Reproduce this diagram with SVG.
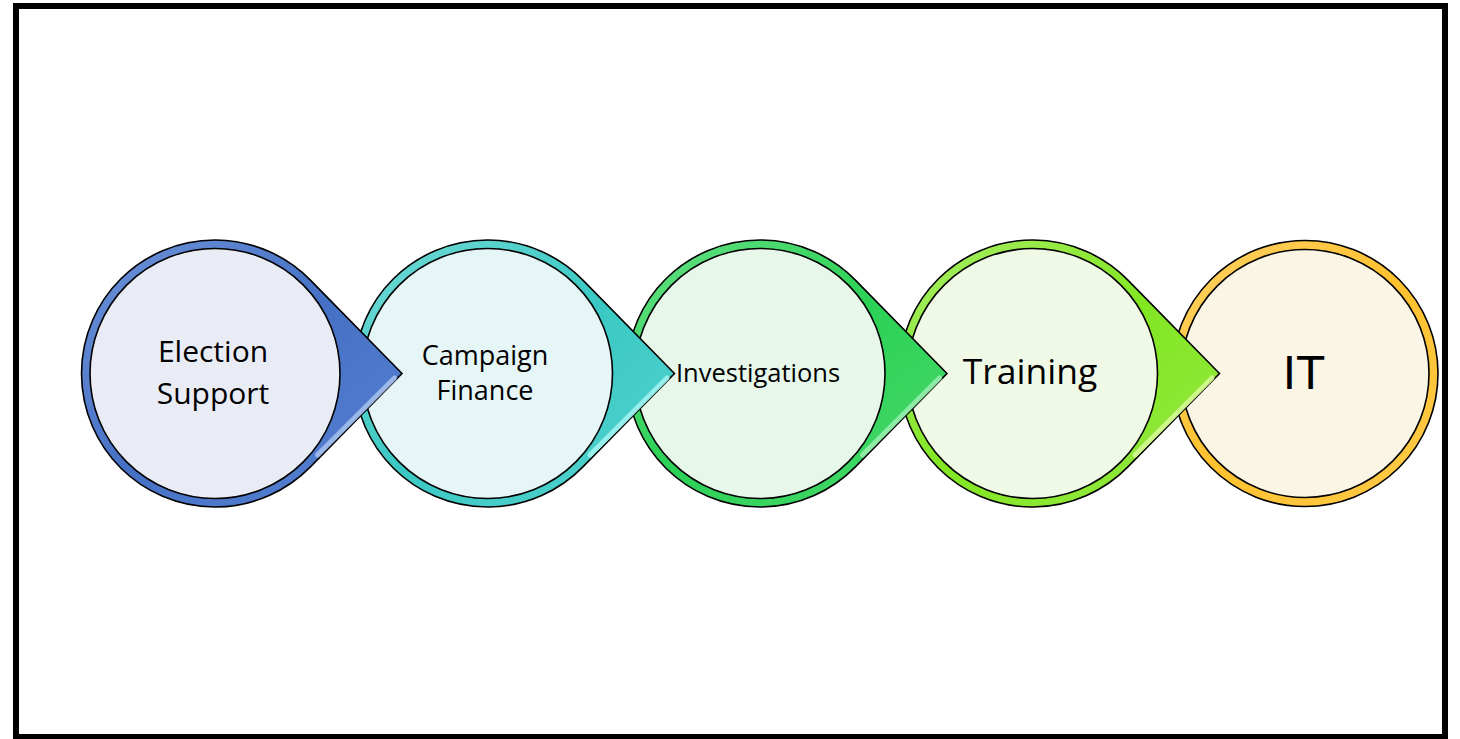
<svg xmlns="http://www.w3.org/2000/svg" width="1460" height="739" viewBox="0 0 1460 739">
<defs>
<style>
.outer{stroke:#000;stroke-width:1.6;stroke-linejoin:miter}
.inner{stroke:#000;stroke-width:1.6}
.hl{fill:none;stroke-width:5;stroke-linecap:round;opacity:0.85}
.lbl{font-family:"Open Sans","Noto Sans",sans-serif;fill:#000;text-anchor:middle}
</style>
<linearGradient id="gBlue" x1="0" y1="0" x2="1" y2="1"><stop offset="0" stop-color="#6E93D8"/><stop offset="0.5" stop-color="#4570C5"/><stop offset="1" stop-color="#5A84D2"/></linearGradient>
<linearGradient id="gTeal" x1="0" y1="0" x2="1" y2="1"><stop offset="0" stop-color="#72DAD6"/><stop offset="0.5" stop-color="#3AC8C3"/><stop offset="1" stop-color="#55D3CF"/></linearGradient>
<linearGradient id="gGreen" x1="0" y1="0" x2="1" y2="1"><stop offset="0" stop-color="#66E085"/><stop offset="0.5" stop-color="#2BD155"/><stop offset="1" stop-color="#4ADA6D"/></linearGradient>
<linearGradient id="gLime" x1="0" y1="0" x2="1" y2="1"><stop offset="0" stop-color="#A8EE66"/><stop offset="0.5" stop-color="#82E622"/><stop offset="1" stop-color="#96EA45"/></linearGradient>
<linearGradient id="gGold" x1="0" y1="0" x2="1" y2="1"><stop offset="0" stop-color="#FFD266"/><stop offset="0.5" stop-color="#FFC12E"/><stop offset="1" stop-color="#FFCB4A"/></linearGradient>
</defs>
<rect x="0" y="0" width="1460" height="739" fill="#fff"/>
<rect x="16" y="6" width="1429" height="731" fill="none" stroke="#000" stroke-width="6"/>

<g id="node-it">
<circle class="outer" cx="1305" cy="373.5" r="133" fill="url(#gGold)"/>
<circle class="inner" cx="1305" cy="373.5" r="124" fill="#FBF5E5"/>
<text class="lbl" x="1304" y="389" style="font-family:'Liberation Sans',Arial,sans-serif;font-size:48px">IT</text>
</g>

<g id="node-training">
<path class="outer" d="M1219.5,373.5 L1127.9,280.1 A133.5,133.5 0 1 0 1127.9,466.9 Z" fill="url(#gLime)"/>
<path class="hl" stroke="#D8FA9A" d="M1212,378 L1135,455"/>
<circle class="inner" cx="1032.5" cy="373.5" r="125" fill="#F0F8E6"/>
<text class="lbl" x="1030" y="384" style="font-size:35.5px">Training</text>
</g>

<g id="node-investigations">
<path class="outer" d="M947,373.5 L855.4,280.1 A133.5,133.5 0 1 0 855.4,466.9 Z" fill="url(#gGreen)"/>
<path class="hl" stroke="#9CF0B0" d="M939.5,378 L862.5,455"/>
<circle class="inner" cx="760" cy="373.5" r="125" fill="#E7F7EA"/>
<text class="lbl" x="758" y="382" style="font-size:25.5px">Investigations</text>
</g>

<g id="node-campaign">
<path class="outer" d="M674.5,373.5 L582.9,280.1 A133.5,133.5 0 1 0 582.9,466.9 Z" fill="url(#gTeal)"/>
<path class="hl" stroke="#A6F4F2" d="M667,378 L590,455"/>
<circle class="inner" cx="487.5" cy="373.5" r="125" fill="#E6F5F6"/>
<text class="lbl" style="font-size:27px"><tspan x="485" y="365">Campaign</tspan><tspan x="485" y="400">Finance</tspan></text>
</g>

<g id="node-election">
<path class="outer" d="M402,373.5 L310.4,280.1 A133.5,133.5 0 1 0 310.4,466.9 Z" fill="url(#gBlue)"/>
<path class="hl" stroke="#A9C2EE" d="M394.5,378 L317.5,455"/>
<circle class="inner" cx="215" cy="373.5" r="125" fill="#E9ECF5"/>
<text class="lbl" style="font-size:30px"><tspan x="213" y="362">Election</tspan><tspan x="213" y="404">Support</tspan></text>
</g>

<g id="connectors"></g>
</svg>
